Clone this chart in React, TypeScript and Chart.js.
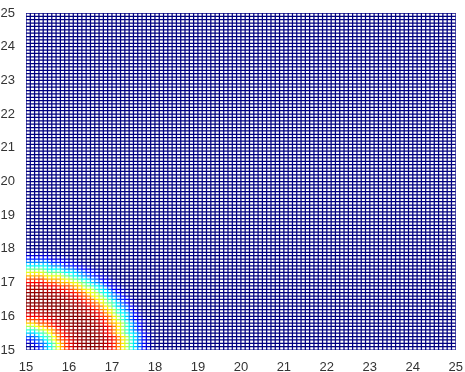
import { useEffect, useRef } from 'react';
import { Chart, registerables } from 'chart.js';

Chart.register(...registerables);

// Axis tick labels
const xTickLabels = [15, 16, 17, 18, 19, 20, 21, 22, 23, 24, 25];
const yTickLabels = [15, 16, 17, 18, 19, 20, 21, 22, 23, 24, 25];

// Mesh grid lines (every 0.1 from 15 to 25)
const gridValues: number[] = Array.from({ length: 101 }, (_, i) => (150 + i) / 10);

// Ring centre (corner of the domain)
const ringCenterX = 15;
const ringCenterY = 15;

// Colour level (0..1 of the jet colormap), by distance
// from the ring centre, in steps of 0.1
const profileLevels = [
  0.0, 0.02, 0.05, 0.12, 0.22, 0.32, 0.42, 0.55, 0.68, 0.8,
  0.88, 0.93, 0.96, 0.98, 0.99, 1.0, 0.99, 0.98, 0.96, 0.93,
  0.88, 0.8, 0.7, 0.6, 0.48, 0.37, 0.26, 0.16, 0.08, 0.03,
  0.0,
];

function levelAt(x: number, y: number): number {
  const r = Math.hypot(x - ringCenterX, y - ringCenterY);
  const idx = Math.round(r * 10);
  return idx < profileLevels.length ? profileLevels[idx] : 0;
}

function clamp(v: number) {
  return Math.max(0, Math.min(1, v));
}

function jet(t: number): string {
  const r = clamp(1.5 - Math.abs(4 * t - 3));
  const g = clamp(1.5 - Math.abs(4 * t - 2));
  const b = clamp(1.5 - Math.abs(4 * t - 1));
  return `rgb(${Math.round(r * 255)},${Math.round(g * 255)},${Math.round(b * 255)})`;
}

export default function App() {
  const canvasRef = useRef<HTMLCanvasElement | null>(null);

  useEffect(() => {
    const canvas = canvasRef.current;
    if (!canvas) return;

    const segColors: string[][] = [];
    const datasets: any[] = [];

    const addLine = (pts: { x: number; y: number }[]) => {
      const cols: string[] = [];
      for (let i = 0; i < pts.length - 1; i++) {
        const a = levelAt(pts[i].x, pts[i].y);
        const b = levelAt(pts[i + 1].x, pts[i + 1].y);
        cols.push(jet((a + b) / 2));
      }
      segColors.push(cols);
      datasets.push({ data: pts });
    };

    // horizontal lines
    gridValues.forEach((yv) => addLine(gridValues.map((xv) => ({ x: xv, y: yv }))));
    // vertical lines
    gridValues.forEach((xv) => addLine(gridValues.map((yv) => ({ x: xv, y: yv }))));

    datasets.forEach((ds, di) => {
      ds.showLine = true;
      ds.pointRadius = 0;
      ds.borderWidth = 1.25;
      ds.borderColor = 'rgb(0,0,143)';
      ds.segment = {
        borderColor: (ctx: any) => segColors[di][ctx.p0DataIndex] || 'rgb(0,0,143)',
      };
    });

    const font = { family: 'Liberation Sans, Arial, sans-serif', size: 13 };

    const chart = new Chart(canvas, {
      type: 'scatter',
      data: { datasets },
      options: {
        animation: false,
        responsive: false,
        events: [],
        parsing: false,
        layout: { padding: { left: 0, top: 13, right: 8, bottom: 0 } },
        plugins: {
          legend: { display: false },
          tooltip: { enabled: false },
        },
        scales: {
          x: {
            type: 'linear',
            min: 15,
            max: 25,
            afterBuildTicks: (s: any) => {
              s.ticks = xTickLabels.map((v) => ({ value: v }));
            },
            afterFit: (s: any) => {
              s.height = 22;
            },
            ticks: { font, color: '#333', padding: 2, maxRotation: 0 },
            grid: { display: false },
            border: { display: false },
          },
          y: {
            type: 'linear',
            min: 15,
            max: 25,
            afterBuildTicks: (s: any) => {
              s.ticks = yTickLabels.map((v) => ({ value: v }));
            },
            afterFit: (s: any) => {
              s.width = 26;
            },
            ticks: { font, color: '#333', padding: 3 },
            grid: { display: false },
            border: { display: false },
          },
        },
      } as any,
    });

    return () => chart.destroy();
  }, []);

  return (
    <div style={{ position: 'fixed', left: 0, top: 0, width: 465, height: 372, background: '#fff' }}>
      <canvas ref={canvasRef} width={465} height={372} />
    </div>
  );
}
